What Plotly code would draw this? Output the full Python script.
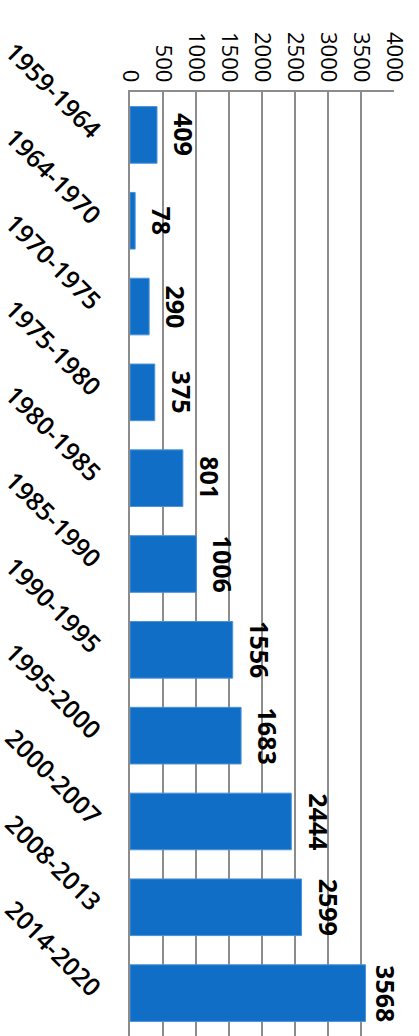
import plotly.graph_objects as go

periods = ["1959-1964", "1964-1970", "1970-1975", "1975-1980", "1980-1985",
           "1985-1990", "1990-1995", "1995-2000", "2000-2007", "2008-2013",
           "2014-2020"]
counts = [409, 78, 290, 375, 801, 1006, 1556, 1683, 2444, 2599, 3568]
value_ticks = [0, 500, 1000, 1500, 2000, 2500, 3000, 3500, 4000]

FONT = "Open Sans"
X_MAX = 4000
PLOT_W = 264  # pixel width of the plotting area

fig = go.Figure(go.Bar(
    x=counts,
    y=periods,
    orientation="h",
    marker=dict(color="#106EC6", line=dict(color="#4A93D8", width=1)),
    width=0.66,
    hoverinfo="x+y",
))

# value labels just past the end of each bar, pulled in when near the edge
for p, v in zip(periods, counts):
    room = (X_MAX - v) * PLOT_W / X_MAX - 26
    shift = max(2, min(9, room))
    fig.add_annotation(
        x=v, y=p, text="<b>%d</b>" % v, showarrow=False,
        xanchor="left", yanchor="middle", xshift=shift,
        textangle=90, borderpad=0,
        font=dict(family=FONT, size=25, color="black"),
    )

fig.update_layout(
    width=419, height=1036,
    margin=dict(l=130, r=25, t=92, b=0),
    paper_bgcolor="white", plot_bgcolor="white",
    showlegend=False,
    font=dict(family=FONT, color="black"),
)

fig.update_xaxes(
    side="top",
    range=[0, X_MAX],
    tickvals=value_ticks,
    ticktext=[str(v) for v in value_ticks],
    tickangle=90,
    tickfont=dict(size=22, family=FONT, color="black"),
    showgrid=True, gridcolor="#8C8C8C", gridwidth=1.5,
    showline=True, linecolor="#8C8C8C", linewidth=2,
    ticks="", zeroline=False,
)

fig.update_yaxes(
    categoryorder="array", categoryarray=periods,
    autorange="reversed",
    tickangle=45,
    ticklabelstandoff=24,
    tickfont=dict(size=25, family=FONT, color="black", weight=600),
    showline=True, linecolor="#8C8C8C", linewidth=2,
    ticks="", showgrid=False,
)

fig.write_html("out.html")
